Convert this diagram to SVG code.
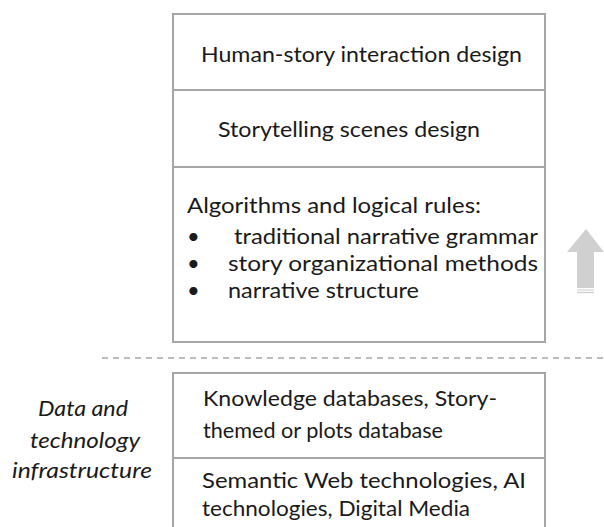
<svg xmlns="http://www.w3.org/2000/svg" width="604" height="527" viewBox="0 0 604 527">
<style>
.box{fill:#ffffff;stroke:#a6a6a6;stroke-width:2}
.sep{fill:none;stroke:#a6a6a6;stroke-width:2}
.t{font-family:Lato,"Open Sans","Liberation Sans",sans-serif;font-size:22px;fill:#1a1a1a}
.it{font-style:italic}
.dash{stroke:#a6a6a6;stroke-width:1.5;stroke-dasharray:6 5}
</style>
<rect width="604" height="527" fill="#ffffff"/>
<g id="upper-stack">
<rect class="box" x="173" y="14" width="372" height="328"/>
</g>
<g id="node-interaction">
<text class="t" x="201" y="62" textLength="321" lengthAdjust="spacingAndGlyphs">Human-story interaction design</text>
</g>
<g id="node-scenes">
<line class="sep" x1="173" y1="90" x2="545" y2="90"/>
<text class="t" x="218" y="137" textLength="262" lengthAdjust="spacingAndGlyphs">Storytelling scenes design</text>
</g>
<g id="node-algorithms">
<line class="sep" x1="173" y1="167" x2="545" y2="167"/>
<text class="t" x="187" y="213" textLength="294" lengthAdjust="spacingAndGlyphs">Algorithms and logical rules:</text>
<text class="t" x="187" y="244">•</text>
<text class="t" x="234" y="244" textLength="304" lengthAdjust="spacingAndGlyphs">traditional narrative grammar</text>
<text class="t" x="187" y="271">•</text>
<text class="t" x="228" y="271" textLength="310" lengthAdjust="spacingAndGlyphs">story organizational methods</text>
<text class="t" x="187" y="298">•</text>
<text class="t" x="228" y="298" textLength="191" lengthAdjust="spacingAndGlyphs">narrative structure</text>
</g>
<g id="connectors">
<line class="dash" x1="102" y1="358" x2="604" y2="358"/>
<g id="up-arrow" fill="#d0d0d0">
<polygon points="586,229 604,252 594,252 594,288 577,288 577,252 567,252"/>
<rect x="577" y="289.5" width="17" height="1"/>
<rect x="577" y="291.8" width="17" height="1.4"/>
</g>
</g>
<g id="lower-stack">
<rect class="box" x="173" y="373" width="372" height="170"/>
</g>
<g id="node-databases">
<text class="t" x="203" y="406" textLength="294" lengthAdjust="spacingAndGlyphs">Knowledge databases, Story-</text>
<text class="t" x="203" y="438" textLength="240" lengthAdjust="spacingAndGlyphs">themed or plots database</text>
</g>
<g id="node-technologies">
<line class="sep" x1="173" y1="458" x2="545" y2="458"/>
<text class="t" x="202" y="488" textLength="324" lengthAdjust="spacingAndGlyphs">Semantic Web technologies, AI</text>
<text class="t" x="202" y="516" textLength="268" lengthAdjust="spacingAndGlyphs">technologies, Digital Media</text>
</g>
<g id="label-infrastructure">
<text class="t it" x="38" y="416" textLength="90" lengthAdjust="spacingAndGlyphs">Data and</text>
<text class="t it" x="30" y="448" textLength="110" lengthAdjust="spacingAndGlyphs">technology</text>
<text class="t it" x="12" y="478" textLength="140" lengthAdjust="spacingAndGlyphs">infrastructure</text>
</g>
</svg>
